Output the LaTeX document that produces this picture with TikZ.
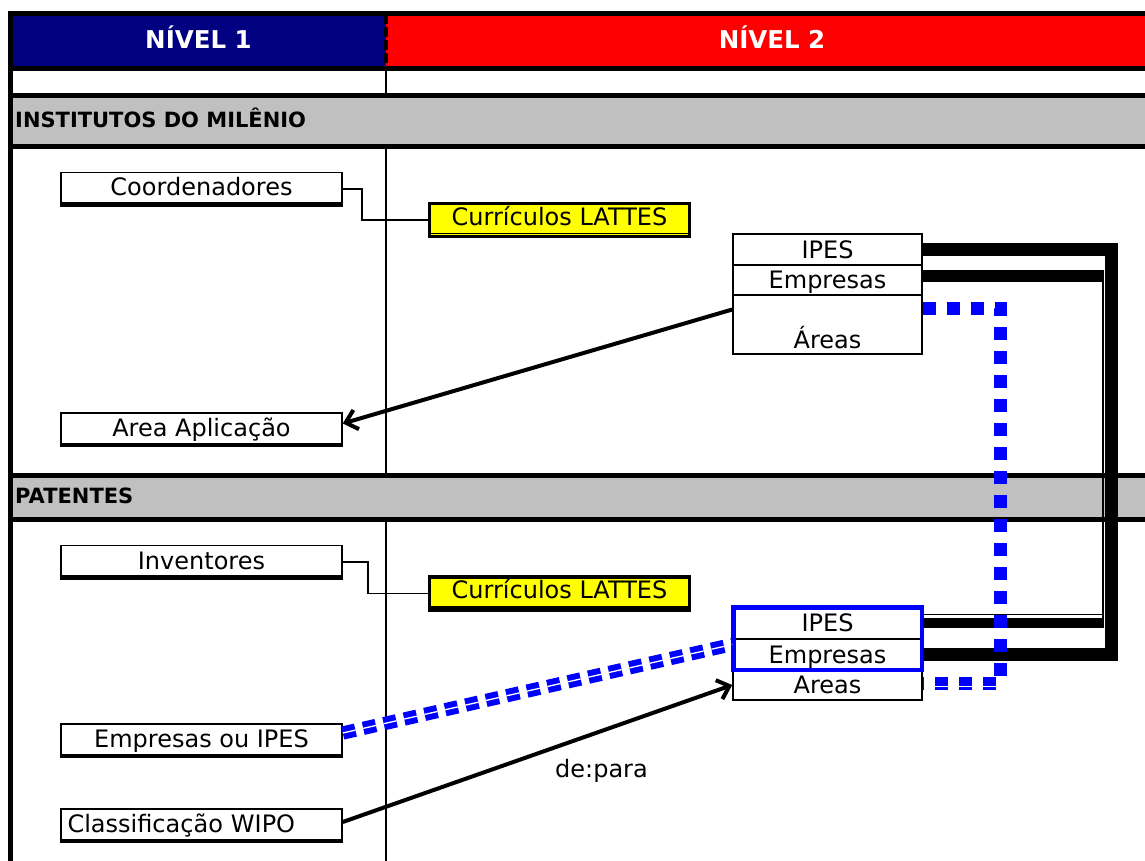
\documentclass[tikz,border=0pt]{standalone}
\usepackage{fontspec}
\setmainfont{DejaVu Sans}
\usetikzlibrary{arrows.meta}
\definecolor{navyhd}{HTML}{000080}
\definecolor{redhd}{HTML}{FF0000}
\definecolor{grayrow}{HTML}{C0C0C0}
\definecolor{yel}{HTML}{FFFF00}
\definecolor{blu}{HTML}{0000FF}
\begin{document}
\begin{tikzpicture}[x=1pt,y=-1pt,
  txt/.style={font=\fontsize{24}{28}\selectfont},
  hdr/.style={font=\fontsize{24.5}{28}\selectfont\bfseries, text=white, inner sep=0pt},
  sec/.style={font=\fontsize{21}{24}\selectfont\bfseries, inner sep=0pt},
  lbox/.style={draw, line width=1.5pt, minimum width=281pt, minimum height=33pt, inner sep=0pt, txt, text height=18pt, text depth=4pt},
  ybox/.style={draw, line width=3.5pt, fill=yel, minimum width=260pt, minimum height=33pt, inner sep=0pt, txt, text height=17pt, text depth=7pt},
  cell/.style={draw, line width=1.5pt, minimum width=189pt, inner sep=0pt, txt, text height=17pt, text depth=0pt},
  tableline/.style={line width=5pt},
  thinline/.style={line width=1.8pt},
  linkline/.style={line width=1.8pt},
  arrowst/.style={line width=4pt, -{Straight Barb[length=11pt,width=20pt]}},
  bluedash/.style={blu, line width=13pt, dash pattern=on 13pt off 11pt},
  bluedouble/.style={blu, line width=6pt, double=white, double distance=1.3pt, dash pattern=on 13pt off 8pt}
]
\useasboundingbox (0,0) rectangle (1145,861);
% table backgrounds
\fill[navyhd] (10,14) rectangle (386,69);
\fill[redhd] (386,14) rectangle (1145,69);
\fill[grayrow] (10,96) rectangle (1145,147);
\fill[grayrow] (10,475) rectangle (1145,519);
% table lines
\draw[thinline] (386,69) -- (386,96);
\draw[thinline] (386,147) -- (386,475);
\draw[thinline] (386,519) -- (386,861);
\draw[line width=3.5pt, dash pattern=on 10pt off 3pt] (386,14) -- (386,69);
\foreach \yy in {14,69,96,147,475,519} \draw[tableline] (8,\yy) -- (1145,\yy);
\draw[tableline] (10.5,11.5) -- (10.5,861);
% header texts
\node[hdr, anchor=base] (n1) at (198.5,49) {NÍVEL 1};
\node[hdr, anchor=base] (n2) at (772,49) {NÍVEL 2};
\node[sec, anchor=base west] (s1) at (15,128) {INSTITUTOS DO MILÊNIO};
\node[sec, anchor=base west] (s2) at (15,503.5) {PATENTES};
% left boxes
\node[lbox] (coord) at (201.5,189) {Coordenadores};
\node[lbox] (area) at (201.5,429.5) {Area Aplicação};
\node[lbox] (inv) at (201.5,562) {Inventores};
\node[lbox] (empi) at (201.5,740.5) {Empresas ou IPES};
\node[lbox, text width=268pt, align=left] (wipo) at (201.5,825.5) {Classificação WIPO};
\foreach \n in {coord,area,inv,empi,wipo}
  \draw[line width=4.5pt] ([yshift=2pt]\n.south west) -- ([yshift=2pt]\n.south east);
% yellow boxes
\node[ybox] (lat1) at (559.5,220) {Currículos LATTES};
\node[ybox] (lat2) at (559.5,593.5) {Currículos LATTES};
\foreach \n in {lat1,lat2}
  \draw[line width=1.5pt] ([yshift=5pt]\n.south west) -- ([yshift=5pt]\n.south east);
\draw[linkline] (coord.east) -- ++(19,0) |- (lat1.west);
\draw[linkline] (inv.east) -- ++(25,0) |- (lat2.west);
% upper cells
\node[cell, minimum height=31pt] (ipes1) at (827.5,249.5) {IPES};
\node[cell, minimum height=30pt] (emp1) at (827.5,280) {Empresas};
\node[cell, minimum height=59pt, text height=47pt] (areas1) at (827.5,324.5) {Áreas};
% lower cells
\node[cell, minimum height=32pt] (ipes2) at (827.5,623) {IPES};
\node[cell, minimum height=31pt] (emp2) at (827.5,654.5) {Empresas};
\node[cell, minimum height=30pt] (areas2) at (827.5,685) {Areas};
\draw[blu, line width=4.5pt] ([xshift=1pt,yshift=-1pt]ipes2.north west) rectangle ([xshift=-1pt,yshift=1pt]emp2.south east);
% black connectors
\coordinate (ax) at (1111,500);
\draw[line width=13pt] (ipes1.east) -| (ax) |- (emp2.east);
\coordinate (bt) at (1102.5,276);
\coordinate (bb) at (1102.5,623);
\draw[line width=12pt] ([yshift=4pt]emp1.east) -- ([xshift=1pt]bt);
\draw[line width=2pt] ([yshift=6pt]bt) -- ([yshift=-5pt]bb);
\draw[line width=10pt] (ipes2.east) -- ([xshift=1pt]bb);
\draw[line width=1.5pt] ([yshift=8.5pt]ipes2.east) -- ([yshift=8.5pt,xshift=1.5pt]bb);
% arrows
\draw[arrowst] ([yshift=15pt]areas1.west) -- ([yshift=6pt]area.east);
\draw[arrowst] ([yshift=3.5pt]wipo.east) -- (areas2.west);
\node[txt, anchor=base, inner sep=0pt] (dp) at (601.5,777) {de:para};
% blue dashed
\coordinate (bx) at (1000,500);
\draw[bluedash] ([yshift=16.5pt]areas1.east) -| (bx) |- ([yshift=2pt]areas2.east);
\draw[white, line width=1.8pt] ([xshift=2pt,yshift=-1.5pt]areas2.east) -- (1006.5,686.5);
\draw[bluedouble] ([yshift=7.5pt]empi.east) -- ([yshift=10pt]emp2.west);
\end{tikzpicture}
\end{document}
